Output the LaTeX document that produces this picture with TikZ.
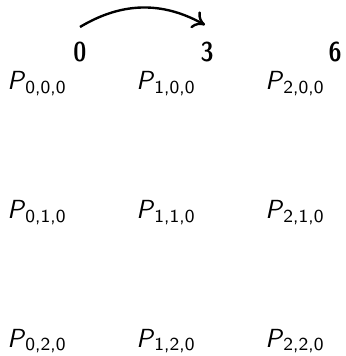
\documentclass[tikz,border=0pt]{standalone}
\usetikzlibrary{arrows.meta}
\begin{document}
\begin{tikzpicture}[x=0.42pt,y=-0.42pt,
  pnode/.style={inner sep=0pt,anchor=base,font=\fontsize{11}{13}\selectfont\sffamily},
  dnode/.style={inner sep=0pt,anchor=base,font=\fontsize{11.5}{13}\selectfont\sffamily\fontseries{sbc}\selectfont},
  arcarrow/.style={-{To[length=5pt,width=8pt]}, line width=1pt}]
\useasboundingbox (0,0) rectangle (345,356);
\newcommand\PP[1]{\textit{P}\textsubscript{#1}}
% digit labels
\node[dnode] (d0) at (80,62) {0};
\node[dnode] (d3) at (207,62) {3};
\node[dnode] (d6) at (335,62) {6};
% P nodes
\node[pnode] (p00) at (37,90)  {\PP{0,0,0}};
\node[pnode] (p10) at (166,90) {\PP{1,0,0}};
\node[pnode] (p20) at (295,90) {\PP{2,0,0}};
\node[pnode] (p01) at (37,218.5)  {\PP{0,1,0}};
\node[pnode] (p11) at (166,218.5) {\PP{1,1,0}};
\node[pnode] (p21) at (295,218.5) {\PP{2,1,0}};
\node[pnode] (p02) at (37,347)  {\PP{0,2,0}};
\node[pnode] (p12) at (166,347) {\PP{1,2,0}};
\node[pnode] (p22) at (295,347) {\PP{2,2,0}};
% arrow
\coordinate (a0) at (80,27);
\coordinate (a3) at (205,25);
\draw[arcarrow] (a0) to[bend left=30] (a3);
\end{tikzpicture}
\end{document}
